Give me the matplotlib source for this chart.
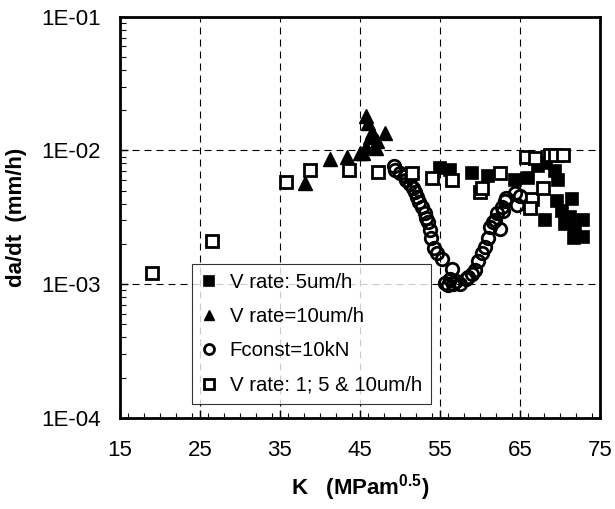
import numpy as np
import matplotlib
matplotlib.use('Agg')
import matplotlib.pyplot as plt
from matplotlib.ticker import LogLocator, FuncFormatter, MultipleLocator, NullFormatter

plt.rcParams['font.family'] = 'Liberation Sans'
plt.rcParams['mathtext.fontset'] = 'custom'
plt.rcParams['mathtext.bf'] = 'Liberation Sans:bold'
plt.rcParams['mathtext.rm'] = 'Liberation Sans:bold'

# V rate: 5um/h (filled squares)
k_5 = [55.0, 56.3, 59.0, 61.0, 64.4, 66.0, 67.3, 68.3, 69.4, 69.8, 68.1, 69.6,
       71.5, 70.2, 71.25, 72.9, 70.6, 71.7, 72.9, 71.9]
v_5 = [7.4e-3, 7.2e-3, 6.8e-3, 6.4e-3, 6.0e-3, 6.2e-3, 7.6e-3, 8.1e-3, 7.0e-3, 6.0e-3,
       3.0e-3, 4.2e-3, 4.3e-3, 3.5e-3, 3.2e-3, 3.0e-3, 2.8e-3, 2.2e-3, 2.25e-3, 2.6e-3]

# V rate=10um/h (filled triangles)
k_10 = [38.1, 41.3, 43.4, 45.0, 45.4, 45.8, 45.8, 46.0, 46.3, 46.5, 47.0, 47.1, 48.1]
v_10 = [5.7e-3, 8.6e-3, 9.0e-3, 9.5e-3, 9.5e-3, 1.8e-2, 1.07e-2, 1.6e-2, 1.27e-2,
        1.38e-2, 1.04e-2, 1.17e-2, 1.35e-2]

# Fconst=10kN (open circles)
k_f = [49.2, 49.4, 50.0, 50.6, 50.8, 51.25, 51.6, 51.9, 52.1, 52.4, 52.7, 53.1, 53.3,
       53.5, 53.75, 53.9, 54.2, 54.6, 55.2, 55.6, 56.0, 56.25, 56.5, 56.6, 57.0, 57.5,
       58.2, 58.5, 59.0, 59.4, 59.8, 60.2, 60.6, 61.0, 61.25, 61.6, 61.9, 62.1, 62.5,
       62.7, 62.9, 63.1, 63.3, 64.4, 64.6, 65.0]
v_f = [7.6e-3, 7.2e-3, 6.8e-3, 6.4e-3, 6.0e-3, 5.6e-3, 5.2e-3, 4.9e-3, 4.5e-3, 4.1e-3,
       3.8e-3, 3.4e-3, 3.1e-3, 2.9e-3, 2.55e-3, 2.2e-3, 1.86e-3, 1.7e-3, 1.55e-3, 1.02e-3,
       0.98e-3, 1.1e-3, 1.3e-3, 1.0e-3, 1.05e-3, 1.0e-3, 1.1e-3, 1.14e-3, 1.2e-3, 1.27e-3,
       1.5e-3, 1.7e-3, 1.9e-3, 2.2e-3, 2.7e-3, 2.9e-3, 3.0e-3, 3.4e-3, 2.6e-3, 3.8e-3,
       3.5e-3, 4.2e-3, 4.4e-3, 4.8e-3, 3.9e-3, 4.6e-3]

# V rate: 1; 5 & 10um/h (open squares)
k_all = [19.0, 26.5, 35.8, 38.8, 43.6, 47.3, 51.5, 54.0, 56.5, 60.0, 60.2, 62.5,
         65.8, 66.9, 68.75, 69.4, 70.4, 66.5, 66.25, 67.9]
v_all = [1.22e-3, 2.1e-3, 5.8e-3, 7.1e-3, 7.1e-3, 6.9e-3, 6.8e-3, 6.25e-3, 6.0e-3, 4.9e-3,
         5.2e-3, 6.8e-3, 9.0e-3, 8.8e-3, 9.3e-3, 9.3e-3, 9.3e-3, 4.3e-3, 3.7e-3, 5.2e-3]

fig = plt.figure(figsize=(6.15, 5.09), dpi=100)
ax = fig.add_axes([0.195, 0.179, 0.7805, 0.788])

ax.plot(k_5, v_5, 's', color='black', ms=8.5, mew=1.2, label='V rate: 5um/h', zorder=3)
ax.plot(k_10, v_10, '^', color='black', ms=9.5, mew=1.0, label='V rate=10um/h', zorder=3)
ax.plot(k_f, v_f, 'o', mfc='none', mec='black', ms=9, mew=2, label='Fconst=10kN', zorder=3)
ax.plot(k_all, v_all, 's', mfc='white', mec='black', ms=9, mew=2,
        label='V rate: 1; 5 & 10um/h', zorder=3)

ax.set_yscale('log')
ax.set_xlim(15, 75)
ax.set_ylim(1e-4, 1e-1)
ax.set_xticks([15, 25, 35, 45, 55, 65, 75])
ax.xaxis.set_minor_locator(MultipleLocator(2))
ax.yaxis.set_minor_locator(LogLocator(base=10, subs=np.arange(2, 10)))
ax.yaxis.set_minor_formatter(NullFormatter())
ax.yaxis.set_major_formatter(FuncFormatter(lambda v, p: '1E-%02d' % round(-np.log10(v))))

ax.grid(True, which='major', linestyle=(0, (6.3, 4.5)), color='black', linewidth=0.8)
ax.tick_params(which='both', direction='in', labelsize=16, top=False, right=False)
ax.tick_params(axis='x', which='major', length=6, width=1, pad=16)
ax.tick_params(axis='x', which='minor', length=3.5, width=0.8)
ax.tick_params(axis='y', which='major', length=6, width=1, pad=14)
ax.tick_params(axis='y', which='minor', length=4, width=0.8)
for s in ax.spines.values():
    s.set_linewidth(2)

ax.set_xlabel(r'K   (MPam$^{\mathbf{0.5}}$)', fontsize=16, fontweight='bold', labelpad=8)
ax.set_ylabel('da/dt  (mm/h)', fontsize=16, fontweight='bold', labelpad=10)

leg = ax.legend(loc='lower left', bbox_to_anchor=(0.15, 0.035), borderaxespad=0,
                fontsize=14.7, frameon=True, fancybox=False, edgecolor='black',
                markerscale=0.8, handlelength=0.8, handletextpad=0.6,
                labelspacing=0.75, borderpad=0.45)
leg.get_frame().set_linewidth(0.8)
leg.set_zorder(5)

fig.savefig('out.png', dpi=100)
